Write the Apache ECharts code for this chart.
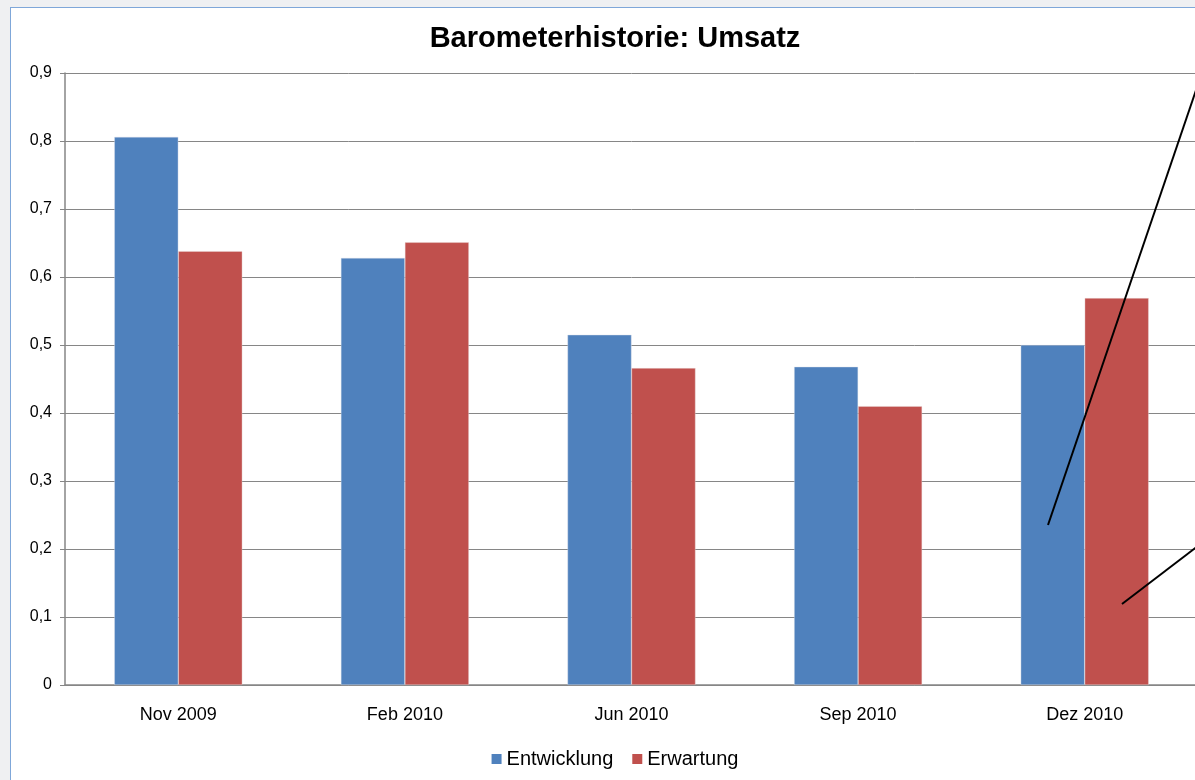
<!DOCTYPE html>
<html>
<head>
<meta charset="utf-8">
<script src="https://cdn.jsdelivr.net/npm/echarts@6/dist/echarts.min.js"></script>
<style>
  html, body { margin: 0; padding: 0; overflow: hidden; background: #eff0f2; }
  #frame {
    position: absolute; left: 10px; top: 7px;
    width: 1208px; height: 800px;
    border: 1px solid #7fa7d9; background: #fff;
  }
  #chart { width: 1208px; height: 800px; }
</style>
</head>
<body>
<div id="frame"><div id="chart"></div></div>
<script>
const categories = ['Nov 2009', 'Feb 2010', 'Jun 2010', 'Sep 2010', 'Dez 2010']
const entwicklung = [0.806, 0.628, 0.515, 0.468, 0.500]
const erwartung = [0.638, 0.651, 0.466, 0.410, 0.569]

const fmt = (v) => String(Math.round(v * 10) / 10).replace('.', ',')

const chart = echarts.init(document.getElementById('chart'))

const option = {
  animation: false,
  textStyle: { fontFamily: 'Liberation Sans, Arial, sans-serif' },
  title: {
    text: 'Barometerhistorie: Umsatz',
    left: 'center',
    top: 11,
    textStyle: { fontSize: 29, fontWeight: 'bold', color: '#000' }
  },
  legend: {
    bottom: 34,
    left: 'center',
    itemWidth: 10,
    itemHeight: 10,
    itemGap: 19,
    icon: 'rect',
    itemStyle: { borderWidth: 0 },
    textStyle: { fontSize: 20, color: '#000' },
    data: ['Entwicklung', 'Erwartung']
  },
  grid: { left: 54, top: 65, width: 1133, height: 612 },
  xAxis: {
    type: 'category',
    data: categories,
    axisLine: { lineStyle: { color: '#868686', width: 1.5 } },
    axisTick: { length: 5, lineStyle: { color: '#868686' } },
    axisLabel: { margin: 21, fontSize: 18, color: '#000' }
  },
  yAxis: {
    type: 'value',
    min: 0,
    max: 0.9,
    interval: 0.1,
    axisLine: { show: true, lineStyle: { color: '#868686', width: 1.5 } },
    axisTick: { show: true, length: 5, lineStyle: { color: '#868686' } },
    axisLabel: { margin: 13, fontSize: 16, color: '#000', formatter: fmt },
    splitLine: { lineStyle: { color: '#868686', width: 1 } }
  },
  series: [
    {
      name: 'Entwicklung',
      type: 'bar',
      data: entwicklung,
      barWidth: 64,
      barGap: '0%',
      itemStyle: { color: '#4f81bd', borderColor: 'rgba(220,225,235,0.8)', borderWidth: 0.5 }
    },
    {
      name: 'Erwartung',
      type: 'bar',
      data: erwartung,
      barWidth: 64,
      barGap: '0%',
      itemStyle: { color: '#c0504d', borderColor: 'rgba(235,220,220,0.8)', borderWidth: 0.5 }
    }
  ],
  graphic: [
    {
      type: 'line',
      z: 100,
      shape: { x1: 1037, y1: 517, x2: 1198, y2: 44 },
      style: { stroke: '#000', lineWidth: 2 }
    },
    {
      type: 'line',
      z: 100,
      shape: { x1: 1111, y1: 596, x2: 1200, y2: 528 },
      style: { stroke: '#000', lineWidth: 2 }
    }
  ]
}

chart.setOption(option)
</script>
</body>
</html>
